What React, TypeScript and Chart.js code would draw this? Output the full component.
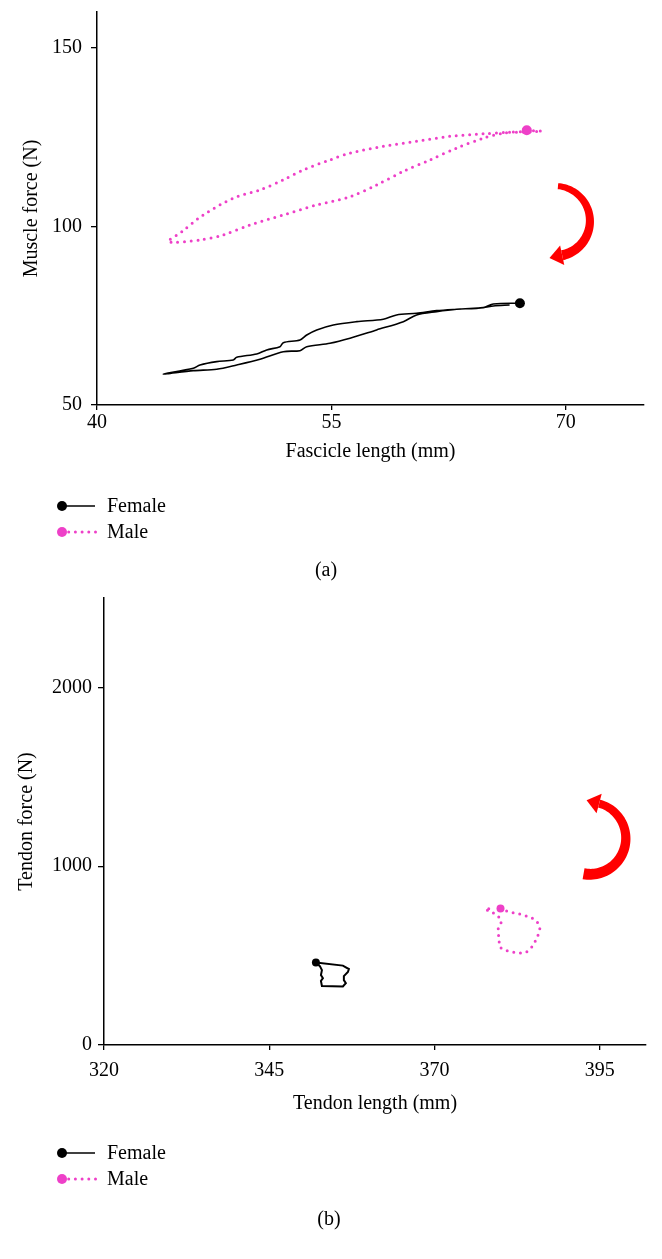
import { useEffect, useRef } from 'react';
import { Chart, registerables } from 'chart.js';

Chart.register(...registerables);

const SERIF = '"Liberation Serif", "Times New Roman", serif';
const PINK = '#ee40c8';
const RED = '#ff0000';

// ---------- Panel (a): muscle force vs fascicle length ----------
const MUSCLE_X_TICKS = [40, 55, 70];
const MUSCLE_Y_TICKS = [50, 100, 150];

const FEMALE_A_X = [67.06, 65.36, 64.72, 63.01, 61.73, 60.45, 59.17, 58.32, 56.62, 55.12, 54.06, 53.42, 52.99, 51.92, 51.71, 50.86, 50.22, 48.94, 48.72, 47.66, 46.59, 46.16, 44.24, 46.16, 47.66, 48.94, 50.43, 51.92, 52.99, 53.42, 54.91, 56.19, 57.89, 59.6, 60.45, 61.73, 63.01, 64.72, 65.36, 66.4];
const FEMALE_A_Y = [78.49, 78.29, 77.25, 76.81, 76.41, 75.69, 75.21, 74.0, 73.33, 72.41, 71.01, 69.61, 68.21, 67.45, 66.33, 65.41, 64.29, 63.36, 62.6, 62.13, 61.2, 60.28, 58.68, 59.61, 60.0, 61.2, 62.8, 64.93, 65.21, 66.33, 67.28, 68.68, 71.01, 73.33, 75.21, 76.13, 76.81, 77.25, 77.73, 78.0];

const MALE_A_X = [67.5, 68.45, 66.3, 64.72, 62.58, 60.45, 58.32, 56.19, 54.91, 53.2, 51.92, 50.43, 48.72, 46.8, 45.42, 44.56, 46.59, 48.08, 49.79, 51.92, 54.06, 56.19, 57.89, 59.6, 61.3, 63.01, 64.72, 66.0, 67.49];
const MALE_A_Y = [126.9, 126.6, 126.3, 125.9, 125.2, 123.8, 122.4, 120.5, 118.6, 115.8, 113.0, 110.2, 107.9, 103.2, 98.5, 95.7, 96.2, 97.6, 100.4, 103.2, 106.0, 108.3, 111.6, 115.4, 118.6, 121.9, 124.7, 126.1, 126.6];

// ---------- Panel (b): tendon force vs tendon length ----------
const TENDON_X_TICKS = [320, 345, 370, 395];
const TENDON_Y_TICKS = [0, 1000, 2000];

const FEMALE_B_X = [352.06, 356.14, 357.05, 356.9, 356.29, 356.29, 356.59, 356.14, 352.97, 352.82, 353.12, 352.82, 352.97, 352.66, 352.06];
const FEMALE_B_Y = [461, 444, 425, 408, 385, 363, 346, 327, 330, 358, 374, 391, 419, 441, 461];

const MALE_B_X = [379.99, 380.9, 381.89, 382.91, 383.92, 384.83, 385.52, 385.93, 385.67, 385.33, 384.92, 384.42, 383.66, 382.65, 381.65, 380.64, 379.88, 379.78, 379.69, 379.62, 379.88, 380.14, 379.38, 378.37, 377.61, 378.87];
const MALE_B_Y = [764, 749, 739, 732, 721, 708, 689, 652, 615, 587, 559, 535, 516, 516, 521, 531, 549, 583, 615, 646, 670, 698, 726, 750, 758, 764];

const LEGEND_LABELS = ['Female', 'Male'];

type Panel = {
  width: number;
  height: number;
  top: number;
  xMin: number; xMax: number; yMin: number; yMax: number;
  xTicks: number[]; yTicks: number[];
  xTitle: string; yTitle: string;
  femaleX: number[]; femaleY: number[];
  maleX: number[]; maleY: number[];
  femaleWidth: number; femaleTension: number; dotR: number;
  padding: { left: number; right: number; top: number; bottom: number };
  yAxisW: number; xAxisH: number; yTitlePad: number; yTickPad: number; xTickPad: number;
  arrow: { x: number; y: number; r: number; a0: number; a1: number; w0: number; w1: number; headLen: number; headW: number };
  legendX: number; legendY: number[];
  caption: string; captionX: number; captionY: number;
};

const PANEL_A: Panel = {
  width: 662, height: 590, top: 0,
  xMin: 40, xMax: 75, yMin: 50, yMax: 160,
  xTicks: MUSCLE_X_TICKS, yTicks: MUSCLE_Y_TICKS,
  xTitle: 'Fascicle length (mm)', yTitle: 'Muscle force (N)',
  femaleX: FEMALE_A_X, femaleY: FEMALE_A_Y, maleX: MALE_A_X, maleY: MALE_A_Y,
  femaleWidth: 1.6, femaleTension: 0.3, dotR: 5,
  padding: { left: 0, right: 18, top: 12, bottom: 126 },
  yAxisW: 97, xAxisH: 59, yTitlePad: 20, yTickPad: 9, xTickPad: 1,
  arrow: { x: 69.3, y: 101.5, r: 35, a0: -85, a1: 78, w0: 6, w1: 10, headLen: 13, headW: 20 },
  legendX: 62, legendY: [506, 532],
  caption: '(a)', captionX: 326, captionY: 571,
};

const PANEL_B: Panel = {
  width: 662, height: 669, top: 590,
  xMin: 320, xMax: 402, yMin: 0, yMax: 2500,
  xTicks: TENDON_X_TICKS, yTicks: TENDON_Y_TICKS,
  xTitle: 'Tendon length (mm)', yTitle: 'Tendon force (N)',
  femaleX: FEMALE_B_X, femaleY: FEMALE_B_Y, maleX: MALE_B_X, maleY: MALE_B_Y,
  femaleWidth: 2, femaleTension: 0, dotR: 4,
  padding: { left: 0, right: 16, top: 8, bottom: 143 },
  yAxisW: 104, xAxisH: 71, yTitlePad: 15, yTickPad: 6, xTickPad: 9,
  arrow: { x: 393.5, y: 1156, r: 36, a0: 100, a1: -75, w0: 11, w1: 8, headLen: 13, headW: 20 },
  legendX: 62, legendY: [563, 589],
  caption: '(b)', captionX: 329, captionY: 630,
};

function drawArrow(ctx: CanvasRenderingContext2D, cx: number, cy: number, a: Panel['arrow']) {
  const a0 = (a.a0 * Math.PI) / 180;
  const a1 = (a.a1 * Math.PI) / 180;
  const N = 60;
  const outer: number[][] = [];
  const inner: number[][] = [];
  for (let i = 0; i <= N; i++) {
    const t = i / N;
    const ang = a0 + (a1 - a0) * t;
    const w = a.w0 + (a.w1 - a.w0) * t;
    outer.push([cx + (a.r + w / 2) * Math.cos(ang), cy + (a.r + w / 2) * Math.sin(ang)]);
    inner.push([cx + (a.r - w / 2) * Math.cos(ang), cy + (a.r - w / 2) * Math.sin(ang)]);
  }
  ctx.fillStyle = RED;
  ctx.beginPath();
  outer.forEach(([x, y], i) => (i ? ctx.lineTo(x, y) : ctx.moveTo(x, y)));
  for (let i = N; i >= 0; i--) ctx.lineTo(inner[i][0], inner[i][1]);
  ctx.closePath();
  ctx.fill();
  const s = Math.sign(a1 - a0);
  const dx = -Math.sin(a1) * s;
  const dy = Math.cos(a1) * s;
  const px = cx + a.r * Math.cos(a1);
  const py = cy + a.r * Math.sin(a1);
  const nx = Math.cos(a1);
  const ny = Math.sin(a1);
  ctx.beginPath();
  ctx.moveTo(px + (nx * a.headW) / 2, py + (ny * a.headW) / 2);
  ctx.lineTo(px + dx * a.headLen, py + dy * a.headLen);
  ctx.lineTo(px - (nx * a.headW) / 2, py - (ny * a.headW) / 2);
  ctx.closePath();
  ctx.fill();
}

function decorPlugin(p: Panel) {
  return {
    id: 'decor' + p.caption,
    afterDraw(chart: any) {
      const ctx: CanvasRenderingContext2D = chart.ctx;
      const xs = chart.scales.x;
      const ys = chart.scales.y;
      ctx.save();
      drawArrow(ctx, xs.getPixelForValue(p.arrow.x), ys.getPixelForValue(p.arrow.y), p.arrow);

      // legend
      const lx = p.legendX;
      ctx.font = `20px ${SERIF}`;
      ctx.textBaseline = 'middle';
      ctx.textAlign = 'left';
      // Female
      let y = p.legendY[0];
      ctx.strokeStyle = '#000';
      ctx.lineWidth = 1.6;
      ctx.beginPath();
      ctx.moveTo(lx, y);
      ctx.lineTo(lx + 33, y);
      ctx.stroke();
      ctx.fillStyle = '#000';
      ctx.beginPath();
      ctx.arc(lx, y, 5, 0, Math.PI * 2);
      ctx.fill();
      ctx.fillText(LEGEND_LABELS[0], lx + 45, y + 1);
      // Male
      y = p.legendY[1];
      ctx.strokeStyle = PINK;
      ctx.lineWidth = 3;
      ctx.lineCap = 'round';
      ctx.setLineDash([0, 6.7]);
      ctx.beginPath();
      ctx.moveTo(lx + 6.7, y);
      ctx.lineTo(lx + 34, y);
      ctx.stroke();
      ctx.setLineDash([]);
      ctx.fillStyle = PINK;
      ctx.beginPath();
      ctx.arc(lx, y, 5, 0, Math.PI * 2);
      ctx.fill();
      ctx.fillStyle = '#000';
      ctx.fillText(LEGEND_LABELS[1], lx + 45, y + 1);

      // caption
      ctx.textAlign = 'center';
      ctx.fillText(p.caption, p.captionX, p.captionY);
      ctx.restore();
    },
  };
}

function buildConfig(p: Panel): any {
  const font = { family: SERIF, size: 20 };
  const female = p.femaleX.map((x, i) => ({ x, y: p.femaleY[i] }));
  const male = p.maleX.map((x, i) => ({ x, y: p.maleY[i] }));
  return {
    type: 'scatter',
    data: {
      datasets: [
        {
          label: LEGEND_LABELS[0],
          data: female,
          showLine: true,
          borderColor: '#000',
          backgroundColor: '#000',
          borderWidth: p.femaleWidth,
          pointRadius: female.map((_, i) => (i === 0 ? p.dotR : 0)),
          pointBorderWidth: 0,
          pointHoverRadius: 0,
          tension: p.femaleTension,
          fill: false,
          order: 2,
        },
        {
          label: LEGEND_LABELS[1],
          data: male,
          showLine: true,
          borderColor: PINK,
          backgroundColor: PINK,
          borderWidth: 3,
          borderDash: [0, 6.7],
          borderCapStyle: 'round',
          pointRadius: male.map((_, i) => (i === 0 ? p.dotR : 0)),
          pointBorderWidth: 0,
          pointHoverRadius: 0,
          tension: 0.3,
          fill: false,
          order: 1,
        },
      ],
    },
    options: {
      responsive: false,
      animation: false,
      events: [],
      layout: { padding: p.padding },
      plugins: { legend: { display: false }, tooltip: { enabled: false } },
      scales: {
        x: {
          type: 'linear',
          min: p.xMin,
          max: p.xMax,
          afterBuildTicks: (ax: any) => {
            ax.ticks = p.xTicks.map((v) => ({ value: v }));
          },
          afterFit: (ax: any) => {
            ax.height = p.xAxisH;
            ax.paddingLeft = 0;
            ax.paddingRight = 0;
          },
          grid: { drawOnChartArea: false, drawTicks: true, tickLength: 5, color: '#000', lineWidth: 1.3 },
          border: { display: true, color: '#000', width: 1.5 },
          ticks: { color: '#000', font, padding: p.xTickPad, maxRotation: 0, callback: (v: number) => String(v) },
          title: { display: true, text: p.xTitle, color: '#000', font, padding: { top: 0, bottom: 0 } },
        },
        y: {
          type: 'linear',
          min: p.yMin,
          max: p.yMax,
          afterBuildTicks: (ax: any) => {
            ax.ticks = p.yTicks.map((v) => ({ value: v }));
          },
          afterFit: (ax: any) => {
            ax.width = p.yAxisW;
            ax.paddingTop = 0;
            ax.paddingBottom = 0;
          },
          grid: { drawOnChartArea: false, drawTicks: true, tickLength: 6, color: '#000', lineWidth: 1.3 },
          border: { display: true, color: '#000', width: 1.5 },
          ticks: { color: '#000', font, padding: p.yTickPad, callback: (v: number) => String(v) },
          title: { display: true, text: p.yTitle, color: '#000', font, padding: { top: p.yTitlePad, bottom: 0 } },
        },
      },
    },
    plugins: [decorPlugin(p)],
  };
}

function PanelChart({ panel }: { panel: Panel }) {
  const ref = useRef<HTMLCanvasElement | null>(null);
  useEffect(() => {
    if (!ref.current) return;
    const chart = new Chart(ref.current, buildConfig(panel));
    return () => chart.destroy();
  }, [panel]);
  return (
    <canvas
      ref={ref}
      width={panel.width}
      height={panel.height}
      style={{ position: 'absolute', left: 0, top: panel.top, width: panel.width, height: panel.height, display: 'block' }}
    />
  );
}

export default function App() {
  return (
    <div style={{ position: 'absolute', left: 0, top: 0, width: 662, height: 1259, background: '#fff' }}>
      <PanelChart panel={PANEL_A} />
      <PanelChart panel={PANEL_B} />
    </div>
  );
}
